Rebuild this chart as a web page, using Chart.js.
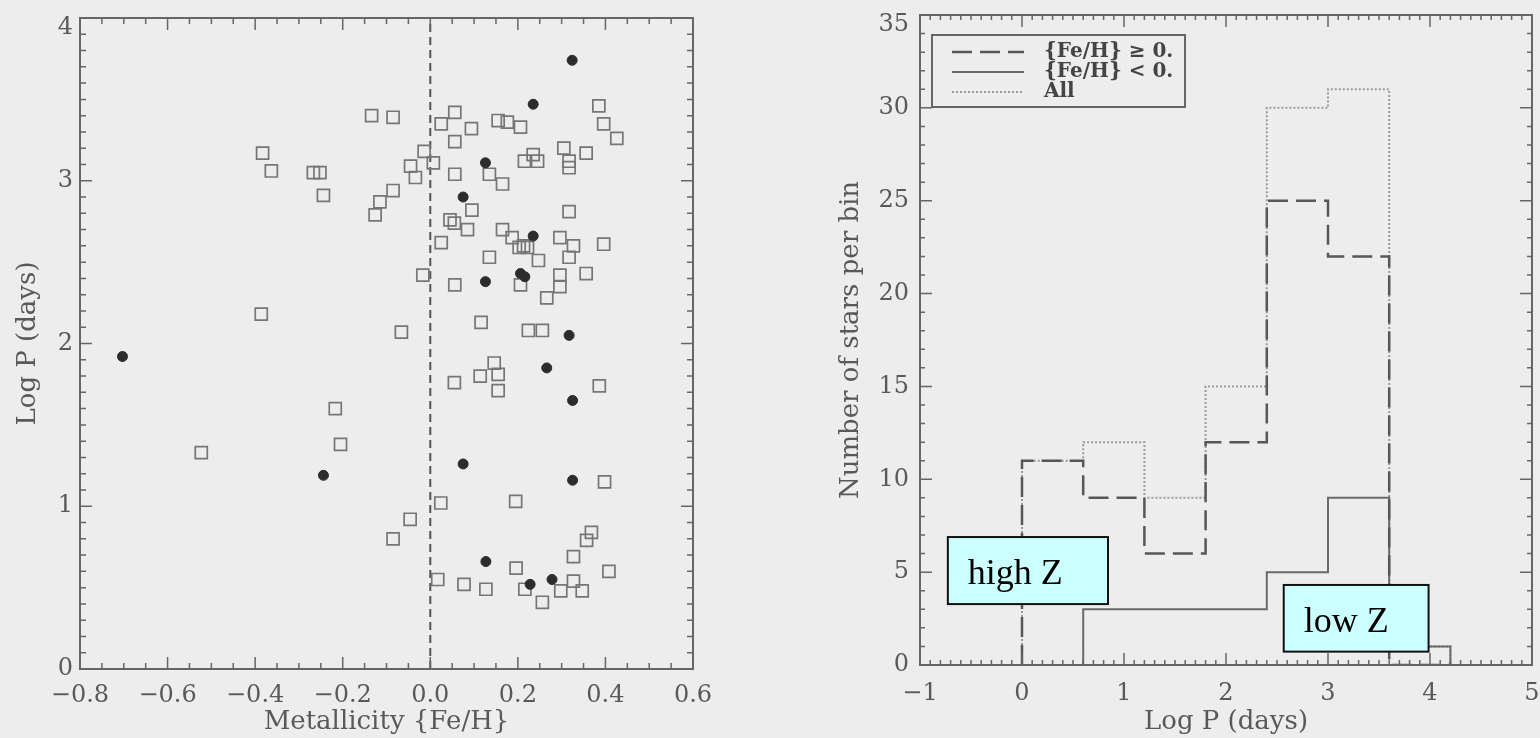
<!DOCTYPE html>
<html>
<head>
<meta charset="utf-8">
<script src="https://cdn.jsdelivr.net/npm/chart.js@4.4.1/dist/chart.umd.min.js"></script>
<style>
  html, body { margin: 0; padding: 0; background: #ededed; }
  body { width: 1540px; height: 738px; position: relative; overflow: hidden; }
  .panel { position: absolute; top: 0; height: 738px; }
  #left { left: 0; width: 760px; }
  #right { left: 760px; width: 780px; }
</style>
</head>
<body>
<div class="panel" id="left"><canvas id="scatterChart" width="760" height="738"></canvas></div>
<div class="panel" id="right"><canvas id="histChart" width="780" height="738"></canvas></div>
<script>
// left panel: metallicity vs period, open squares and filled dots
const openFeH = [-0.134, -0.085, -0.383, -0.363, -0.267, -0.252, -0.244, -0.115, -0.126, -0.085,
  -0.045, -0.034, -0.014, 0.007, -0.017, -0.386, -0.066, 0.385, 0.056, 0.025,
  0.094, 0.155, 0.176, 0.206, 0.396, 0.426, 0.056, 0.056, 0.135, 0.165,
  0.305, 0.356, 0.235, 0.215, 0.245, 0.317, 0.317, 0.095, 0.317, 0.045,
  0.055, 0.085, 0.165, 0.187, 0.203, 0.213, 0.222, 0.296, 0.327, 0.396,
  0.025, 0.135, 0.247, 0.317, 0.296, 0.356, 0.056, 0.206, 0.296, 0.266,
  0.116, 0.224, 0.256, -0.523, -0.217, -0.205, -0.085, -0.046, 0.024, 0.017,
  0.055, 0.146, 0.114, 0.155, 0.155, 0.386, 0.398, 0.195, 0.368, 0.357,
  0.327, 0.196, 0.408, 0.077, 0.127, 0.216, 0.298, 0.327, 0.347, 0.256];
const openLogP = [3.40, 3.39, 3.17, 3.06, 3.05, 3.05, 2.91, 2.87, 2.79, 2.94,
  3.09, 3.02, 3.18, 3.11, 2.42, 2.18, 2.07, 3.46, 3.42, 3.35,
  3.32, 3.37, 3.36, 3.33, 3.35, 3.26, 3.24, 3.04, 3.04, 2.98,
  3.20, 3.17, 3.16, 3.12, 3.12, 3.12, 3.08, 2.82, 2.81, 2.76,
  2.74, 2.70, 2.70, 2.65, 2.59, 2.60, 2.59, 2.65, 2.60, 2.61,
  2.62, 2.53, 2.51, 2.53, 2.42, 2.43, 2.36, 2.36, 2.35, 2.28,
  2.13, 2.08, 2.08, 1.33, 1.60, 1.38, 0.80, 0.92, 1.02, 0.55,
  1.76, 1.88, 1.80, 1.81, 1.71, 1.74, 1.15, 1.03, 0.84, 0.79,
  0.69, 0.62, 0.60, 0.52, 0.49, 0.49, 0.48, 0.54, 0.48, 0.41];
const filledFeH = [0.324, 0.235, 0.126, 0.075, 0.235, 0.206, 0.216, 0.126, 0.317,
  -0.703, -0.244, 0.266, 0.325, 0.075, 0.325, 0.127, 0.228, 0.278];
const filledLogP = [3.74, 3.47, 3.11, 2.90, 2.66, 2.43, 2.41, 2.38, 2.05,
  1.92, 1.19, 1.85, 1.65, 1.26, 1.16, 0.66, 0.52, 0.55];
const solarFeH = 0;
const feHTicks = [-0.8, -0.6, -0.4, -0.2, 0.0, 0.2, 0.4, 0.6];
const logPTicksLeft = [0, 1, 2, 3, 4];

// right panel: histogram of log P
const binEdges = [0, 0.6, 1.2, 1.8, 2.4, 3.0, 3.6, 4.2];
const highZCounts = [11, 9, 6, 12, 25, 22, 0];
const lowZCounts = [0, 3, 3, 3, 5, 9, 1];
const allCounts = [11, 12, 9, 15, 30, 31, 1];
const seriesLabels = ['{Fe/H} \u2265 0.', '{Fe/H} < 0.', 'All'];
const logPTicksRight = [-1, 0, 1, 2, 3, 4, 5];
const countTicks = [0, 5, 10, 15, 20, 25, 30, 35];
const boxLabels = ['high Z', 'low Z'];

const ink = '#595959';
Chart.defaults.font.family = '"DejaVu Serif", serif';
Chart.defaults.font.size = 24;
Chart.defaults.color = ink;

const minus = s => s.replace('-', '\u2212');
const fixBox = (s, key, size) => {
  s[key] = size;
  s.paddingLeft = 0; s.paddingRight = 0; s.paddingTop = 0; s.paddingBottom = 0;
};
// the top label sits a little below its tick, as in the plot
const yLabel = (v, top) => (v === top ? ['', String(v)] : String(v));

// inward ticks on all four sides plus the frame
const frameTicks = {
  id: 'frameTicks',
  afterDatasetsDraw(chart, args, o) {
    const { ctx, chartArea: a, scales } = chart;
    ctx.save();
    ctx.strokeStyle = o.color;
    ctx.lineWidth = 1.5;
    const marks = (scale, major, minor, bigLen, smallLen, horiz) => {
      const n = Math.round((scale.max - scale.min) / minor);
      for (let i = 0; i <= n; i++) {
        const v = scale.min + i * minor;
        const len = Math.abs(v / major - Math.round(v / major)) < 1e-6 ? bigLen : smallLen;
        const p = scale.getPixelForValue(v);
        ctx.beginPath();
        if (horiz) {
          ctx.moveTo(p, a.bottom); ctx.lineTo(p, a.bottom - len);
          ctx.moveTo(p, a.top); ctx.lineTo(p, a.top + len);
        } else {
          ctx.moveTo(a.left, p); ctx.lineTo(a.left + len, p);
          ctx.moveTo(a.right, p); ctx.lineTo(a.right - len, p);
        }
        ctx.stroke();
      }
    };
    marks(scales.x, o.xMajor, o.xMinor, o.bigLen, o.smallLen, true);
    marks(scales.y, o.yMajor, o.yMinor, o.bigLen, o.smallLen, false);
    ctx.lineWidth = 2;
    ctx.strokeRect(a.left, a.top, a.width, a.height);
    ctx.restore();
  }
};

new Chart(document.getElementById('scatterChart'), {
  type: 'scatter',
  data: {
    datasets: [
      {
        data: filledFeH.map((x, i) => ({ x, y: filledLogP[i] })),
        pointStyle: 'circle',
        pointRadius: 5,
        backgroundColor: '#2c2c2c',
        borderColor: '#2c2c2c',
        borderWidth: 1
      },
      {
        data: openFeH.map((x, i) => ({ x, y: openLogP[i] })),
        pointStyle: 'rect',
        pointRadius: 8.5,
        backgroundColor: 'rgba(0,0,0,0)',
        borderColor: '#767676',
        borderWidth: 1.7
      },
      {
        data: [{ x: solarFeH, y: logPTicksLeft[0] }, { x: solarFeH, y: logPTicksLeft[logPTicksLeft.length - 1] }],
        showLine: true,
        pointRadius: 0,
        borderColor: '#555',
        borderWidth: 2,
        borderDash: [8, 5]
      }
    ]
  },
  options: {
    responsive: false,
    animation: false,
    layout: { padding: { left: 0, right: 67, top: 18, bottom: 0 } },
    plugins: {
      legend: { display: false },
      tooltip: { enabled: false },
      frameTicks: { color: '#666', xMajor: 0.2, xMinor: 0.05, yMajor: 1, yMinor: 0.1, bigLen: 12, smallLen: 6 }
    },
    scales: {
      x: {
        type: 'linear',
        min: feHTicks[0],
        max: feHTicks[feHTicks.length - 1],
        afterBuildTicks: s => { s.ticks = feHTicks.map(value => ({ value })); },
        afterFit: s => fixBox(s, 'height', 69),
        grid: { display: false, drawTicks: false },
        border: { display: false },
        ticks: { padding: 12, callback: v => minus(v.toFixed(1)) },
        title: { display: true, text: 'Metallicity {Fe/H}', font: { size: 26 }, padding: { top: 0, bottom: 0 } }
      },
      y: {
        type: 'linear',
        min: logPTicksLeft[0],
        max: logPTicksLeft[logPTicksLeft.length - 1],
        afterBuildTicks: s => { s.ticks = logPTicksLeft.map(value => ({ value })); },
        afterFit: s => fixBox(s, 'width', 80),
        grid: { display: false, drawTicks: false },
        border: { display: false },
        ticks: { padding: 7, font: { lineHeight: 0.85 }, callback: v => yLabel(v, logPTicksLeft[logPTicksLeft.length - 1]) },
        title: { display: true, text: 'Log P (days)', font: { size: 26 }, padding: { top: 13, bottom: 0 } }
      }
    }
  },
  plugins: [frameTicks]
});

// legend box and the two cyan labels
const histExtras = {
  id: 'histExtras',
  afterDraw(chart) {
    const { ctx, chartArea: a, scales: { x, y } } = chart;
    ctx.save();
    // legend
    ctx.strokeStyle = '#666';
    ctx.lineWidth = 2;
    ctx.strokeRect(a.left + 12, a.top + 20, 253, 72);
    chart.data.datasets.forEach((ds, i) => {
      const ry = a.top + 37 + i * 20;
      ctx.beginPath();
      ctx.setLineDash(ds.borderDash || []);
      ctx.strokeStyle = ds.borderColor;
      ctx.lineWidth = ds.borderWidth;
      ctx.moveTo(a.left + 32, ry);
      ctx.lineTo(a.left + 104, ry);
      ctx.stroke();
      ctx.setLineDash([]);
      ctx.fillStyle = '#444';
      ctx.font = 'bold 20px "DejaVu Serif", serif';
      ctx.textBaseline = 'middle';
      ctx.fillText(ds.label, a.left + 124, ry);
    });
    // annotation boxes
    const boxes = [
      { text: boxLabels[0], x0: -0.727, x1: 0.843, y0: 3.28, y1: 6.89 },
      { text: boxLabels[1], x0: 2.566, x1: 3.986, y0: 0.72, y1: 4.31 }
    ];
    boxes.forEach(b => {
      const l = x.getPixelForValue(b.x0), r = x.getPixelForValue(b.x1);
      const t = y.getPixelForValue(b.y1), btm = y.getPixelForValue(b.y0);
      ctx.fillStyle = '#ccffff';
      ctx.fillRect(l, t, r - l, btm - t);
      ctx.strokeStyle = '#111';
      ctx.lineWidth = 2;
      ctx.strokeRect(l, t, r - l, btm - t);
      ctx.fillStyle = '#000';
      ctx.font = '36px "Liberation Serif", serif';
      ctx.textBaseline = 'alphabetic';
      ctx.fillText(b.text, l + 20, btm - 20);
    });
    ctx.restore();
  }
};

const stepPoints = counts => [{ x: binEdges[0], y: 0 }]
  .concat(counts.map((c, i) => ({ x: binEdges[i], y: c })))
  .concat([{ x: binEdges[binEdges.length - 1], y: 0 }]);

new Chart(document.getElementById('histChart'), {
  type: 'line',
  data: {
    datasets: [
      { label: seriesLabels[0], data: stepPoints(highZCounts), borderColor: '#575757', borderWidth: 2.5, borderDash: [20, 8] },
      { label: seriesLabels[1], data: stepPoints(lowZCounts), borderColor: '#6a6a6a', borderWidth: 2 },
      { label: seriesLabels[2], data: stepPoints(allCounts), borderColor: '#9a9a9a', borderWidth: 2, borderDash: [2, 2] }
    ]
  },
  options: {
    responsive: false,
    animation: false,
    elements: { point: { radius: 0 }, line: { stepped: 'before', tension: 0, fill: false } },
    layout: { padding: { left: 0, right: 8, top: 15, bottom: 0 } },
    plugins: {
      legend: { display: false },
      tooltip: { enabled: false },
      frameTicks: { color: '#666', xMajor: 1, xMinor: 0.1, yMajor: 5, yMinor: 1, bigLen: 12, smallLen: 5 }
    },
    scales: {
      x: {
        type: 'linear',
        min: logPTicksRight[0],
        max: logPTicksRight[logPTicksRight.length - 1],
        afterBuildTicks: s => { s.ticks = logPTicksRight.map(value => ({ value })); },
        afterFit: s => fixBox(s, 'height', 73),
        grid: { display: false, drawTicks: false },
        border: { display: false },
        ticks: { padding: 14, callback: v => minus(String(v)) },
        title: { display: true, text: 'Log P (days)', font: { size: 26 }, padding: { top: 0, bottom: 0 } }
      },
      y: {
        type: 'linear',
        min: countTicks[0],
        max: countTicks[countTicks.length - 1],
        afterBuildTicks: s => { s.ticks = countTicks.map(value => ({ value })); },
        afterFit: s => fixBox(s, 'width', 160),
        grid: { display: false, drawTicks: false },
        border: { display: false },
        ticks: { padding: 11, font: { lineHeight: 0.85 }, callback: v => yLabel(v, countTicks[countTicks.length - 1]) },
        title: { display: true, text: 'Number of stars per bin', font: { size: 26 }, padding: { top: 76, bottom: 0 } }
      }
    }
  },
  plugins: [frameTicks, histExtras]
});
</script>
</body>
</html>
